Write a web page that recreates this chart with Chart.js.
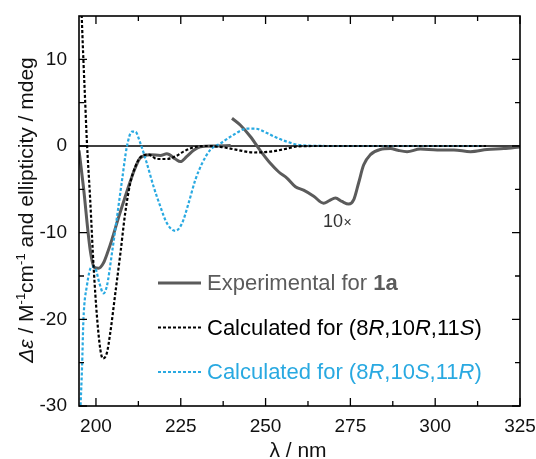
<!DOCTYPE html>
<html>
<head>
<meta charset="utf-8">
<script src="https://cdn.jsdelivr.net/npm/chart.js@4.4.1/dist/chart.umd.min.js"></script>
<style>
  html, body { margin: 0; padding: 0; background: #fff; }
</style>
</head>
<body>
<canvas id="cdChart" width="536" height="459"></canvas>
<script>
// experimental CD of 1a, below 240 nm as measured
const expWl = [195, 196.3, 198.3, 199.5, 200.8, 202.2, 203.5, 204.7, 206.7, 208.5, 210.1, 211.5, 213, 216, 219, 220.9, 223.4, 224.9, 226.8, 228.8, 230.8, 235, 239.7]
const expVal = [-0.5, -4.7, -12, -14, -14.1, -13.5, -12.2, -10.8, -8.2, -6, -4.1, -2.6, -1.4, -1.0, -1.1, -0.9, -1.5, -1.8, -1.2, -0.5, -0.1, 0, 0.05]
// experimental above 240 nm, shown 10x
const exp10Wl = [240.1, 242.6, 245.5, 248.4, 251.4, 253.9, 256.3, 258.8, 261.2, 264.2, 267.1, 268.8, 270.6, 272.5, 274.5, 276, 277.4, 278.9, 280.9, 283.8, 286.8, 289, 291.7, 295.6, 300.6, 305.5, 310.4, 315.3, 320.2, 325]
const exp10Val = [3.2, 2.4, 1.1, -0.5, -2.0, -3.0, -3.7, -4.7, -5.1, -5.8, -6.6, -6.3, -6.0, -6.4, -6.7, -6.2, -4.3, -2.2, -1.0, -0.4, -0.3, -0.5, -0.65, -0.35, -0.45, -0.45, -0.65, -0.4, -0.3, -0.1]
// calculated (8R,10R,11S)
const calcRWl = [195.5, 196.3, 196.8, 197.3, 198.3, 199.3, 200.3, 201.3, 202.0, 203.2, 204.2, 205.7, 207.2, 208.6, 210.1, 211.6, 213.5, 215.5, 218, 220.9, 223.4, 225.8, 228.8, 232.7, 236.7, 241.6, 246.5, 251.4, 256.3, 259.3, 265, 280, 300, 315]
const calcRVal = [18, 9.9, 5.3, 0.7, -6.2, -13.9, -19.7, -23.5, -24.5, -23.9, -21.6, -17, -12.4, -7.8, -4.3, -2.4, -1.15, -1.0, -1.5, -1.5, -1.2, -0.65, -0.15, 0, -0.1, -0.45, -0.75, -0.65, -0.3, -0.05, 0, 0, 0, 0]
// calculated (8R,10S,11R)
const calcSWl = [195.4, 195.9, 196.3, 197.3, 198.8, 199.8, 201.0, 202.2, 203.2, 204.7, 206.2, 207.7, 209.1, 210.6, 211.6, 213.1, 215, 217, 219, 220.9, 223.4, 225.4, 227.3, 229.3, 231.3, 233.7, 236.7, 240.6, 244.5, 247, 250.4, 253, 256.3, 260.3, 270, 290, 314]
const calcSVal = [-30.5, -25.5, -20.1, -16.2, -13.9, -14.1, -15.8, -17.0, -16.2, -12.4, -8.2, -3.9, -0.1, 1.65, 1.65, 0.3, -2.0, -4.7, -7.0, -8.9, -9.8, -8.9, -6.6, -3.9, -2.0, -0.45, 0.3, 1.3, 2.0, 2.0, 1.5, 1.0, 0.5, 0.1, 0, 0, 0]

const xMajor = [200, 225, 250, 275, 300, 325]
const xMinor = [212.5, 237.5, 262.5, 287.5, 312.5]
const yMajor = [-30, -20, -10, 0, 10]
const yMinor = [-25, -15, -5, 5]

const grey = '#5b5b5b'
const blue = '#29a9e1'
const font = "'Liberation Sans', Arial, sans-serif"

const pts = (xs, ys) => xs.map((v, i) => ({ x: v, y: ys[i] }))
// null point breaks the line where the 10x part starts
const expPts = pts(expWl, expVal).concat([{ x: 239.9, y: null }], pts(exp10Wl, exp10Val))

const legendRows = [
    { color: grey, dash: [], width: 3, runs: [['Experimental for ', ''], ['1a', 'bold ']] },
    { color: '#000', dash: [3, 2], width: 2.2, runs: [['Calculated for (8', ''], ['R', 'italic '], [',10', ''], ['R', 'italic '], [',11', ''], ['S', 'italic '], [')', '']] },
    { color: blue, dash: [3, 2], width: 2.2, runs: [['Calculated for (8', ''], ['R', 'italic '], [',10', ''], ['S', 'italic '], [',11', ''], ['R', 'italic '], [')', '']] }
]

function drawRuns(ctx, runs, x, y, size) {
    runs.forEach(([t, st]) => {
        ctx.font = st + size + 'px ' + font
        ctx.fillText(t, x, y)
        x += ctx.measureText(t).width
    })
    return x
}

// no extra padding from the tick labels, plot box is fixed by layout
const noPad = s => { s.paddingTop = 0; s.paddingBottom = 0; s.paddingLeft = 0; s.paddingRight = 0 }

const deco = {
    id: 'deco',
    beforeDatasetsDraw(chart) {
        const { ctx, chartArea: a, scales: { y } } = chart
        const y0 = y.getPixelForValue(0)
        ctx.save()
        ctx.strokeStyle = '#000'
        ctx.lineWidth = 1.3
        ctx.beginPath()
        ctx.moveTo(a.left, y0)
        ctx.lineTo(a.right, y0)
        ctx.stroke()
        ctx.restore()
    },
    afterDraw(chart) {
        const { ctx, chartArea: a, scales: { x, y } } = chart
        ctx.save()
        // frame + inward ticks on all sides
        ctx.strokeStyle = '#000'
        ctx.lineWidth = 1.6
        ctx.strokeRect(a.left, a.top, a.right - a.left, a.bottom - a.top)
        ctx.lineWidth = 1.3
        ctx.beginPath()
        const xt = (v, len) => {
            const p = x.getPixelForValue(v)
            ctx.moveTo(p, a.bottom); ctx.lineTo(p, a.bottom - len)
            ctx.moveTo(p, a.top); ctx.lineTo(p, a.top + len)
        }
        const yt = (v, len) => {
            const p = y.getPixelForValue(v)
            ctx.moveTo(a.left, p); ctx.lineTo(a.left + len, p)
            ctx.moveTo(a.right, p); ctx.lineTo(a.right - len, p)
        }
        xMajor.forEach(v => xt(v, 8))
        xMinor.forEach(v => xt(v, 5))
        yMajor.forEach(v => yt(v, 8))
        yMinor.forEach(v => yt(v, 5))
        ctx.stroke()

        // legend
        ctx.textBaseline = 'middle'
        legendRows.forEach((r, i) => {
            const ly = 283 + i * 44.5
            ctx.strokeStyle = r.color
            ctx.lineWidth = r.width
            ctx.setLineDash(r.dash)
            ctx.beginPath()
            ctx.moveTo(158, ly)
            ctx.lineTo(201, ly)
            ctx.stroke()
            ctx.setLineDash([])
            ctx.fillStyle = r.color
            drawRuns(ctx, r.runs, 207, ly + 1, 22)
        })

        // 10x note
        ctx.fillStyle = '#333'
        ctx.textAlign = 'left'
        const nx = x.getPixelForValue(266.9), ny = y.getPixelForValue(-8.8)
        ctx.font = '18px ' + font
        ctx.fillText('10', nx, ny)
        const w10 = ctx.measureText('10').width
        ctx.font = '14px ' + font
        ctx.fillText('\u00d7', nx + w10 + 0.5, ny + 1)

        // x title
        ctx.fillStyle = '#111'
        ctx.textAlign = 'center'
        ctx.font = '21px ' + font
        ctx.fillText('\u03bb / nm', 298, 451)

        // y title, rotated, with superscripts
        ctx.textBaseline = 'alphabetic'
        const parts = [['\u0394\u03b5', 'italic ', 21, 0], [' / M', '', 21, 0], ['-1', '', 13, -8], ['cm', '', 21, 0], ['-1', '', 13, -8], [' and ellipticity / mdeg', '', 21, 0]]
        let total = 0
        parts.forEach(([t, st, s]) => { ctx.font = st + s + 'px ' + font; total += ctx.measureText(t).width })
        ctx.translate(33, 210)
        ctx.rotate(-Math.PI / 2)
        ctx.textAlign = 'left'
        let px = -total / 2
        parts.forEach(([t, st, s, dy]) => {
            ctx.font = st + s + 'px ' + font
            ctx.fillText(t, px, dy)
            px += ctx.measureText(t).width
        })
        ctx.restore()
    }
}

const config = {
    type: 'line',
    data: {
        datasets: [
            { label: 'Calculated for (8R,10R,11S)', data: pts(calcRWl, calcRVal), borderColor: '#000', borderWidth: 2.2, borderDash: [3, 2] },
            { label: 'Calculated for (8R,10S,11R)', data: pts(calcSWl, calcSVal), borderColor: blue, borderWidth: 2.2, borderDash: [3, 2] },
            { label: 'Experimental for 1a', data: expPts, borderColor: grey, borderWidth: 3, spanGaps: false }
        ]
    },
    options: {
        responsive: false,
        animation: false,
        cubicInterpolationMode: 'monotone',
        elements: { point: { radius: 0 } },
        layout: { padding: { top: 16, right: 16, left: 0, bottom: 0 } },
        plugins: { legend: { display: false }, tooltip: { enabled: false } },
        scales: {
            x: {
                type: 'linear', min: 195, max: 325,
                afterBuildTicks: s => { s.ticks = xMajor.map(v => ({ value: v })) },
                afterFit: s => { s.height = 53; noPad(s) },
                grid: { display: false, drawTicks: false },
                border: { display: false },
                ticks: { padding: 9, color: '#111', font: { size: 19, family: font } }
            },
            y: {
                min: -30, max: 15,
                afterBuildTicks: s => { s.ticks = yMajor.map(v => ({ value: v })) },
                afterFit: s => { s.width = 79; noPad(s) },
                grid: { display: false, drawTicks: false },
                border: { display: false },
                ticks: { padding: 12, color: '#111', font: { size: 19, family: font } }
            }
        }
    },
    plugins: [deco]
}

new Chart(document.getElementById('cdChart'), config)
</script>
</body>
</html>
